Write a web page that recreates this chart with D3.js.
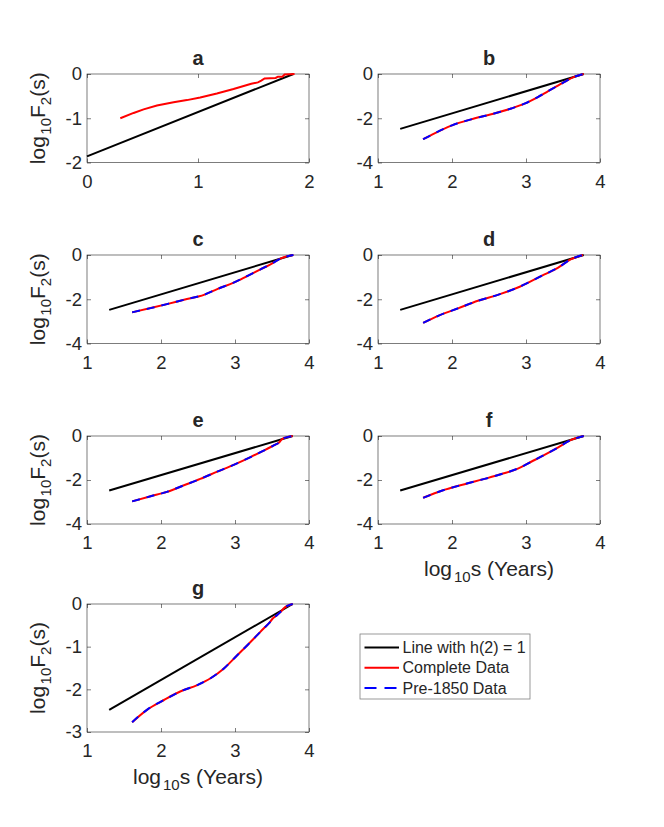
<!DOCTYPE html>
<html>
<head>
<meta charset="utf-8">
<script src="https://cdn.jsdelivr.net/npm/d3@7/dist/d3.min.js"></script>
<style>
  body { margin: 0; background: #fff; }
  text { font-family: "Liberation Sans", Arial, Helvetica, sans-serif; fill: #262626; }
</style>
</head>
<body>
<svg id="chart" width="664" height="827"></svg>
<script>
// values (log10 s, log10 F2(s))
const panelNames = ['a', 'b', 'c', 'd', 'e', 'f', 'g'];

const logSa = [0.30, 0.42, 0.51, 0.63, 0.78, 0.90, 1.02, 1.17, 1.32, 1.48, 1.54, 1.57, 1.60, 1.70, 1.72, 1.76, 1.78, 1.87];
const completeA = [-1.00, -0.88, -0.80, -0.71, -0.64, -0.59, -0.53, -0.44, -0.34, -0.22, -0.19, -0.15, -0.10, -0.09, -0.06, -0.06, -0.01, 0];

const logSb = [1.61, 1.73, 2.00, 2.26, 2.53, 2.80, 2.98, 3.16, 3.34, 3.52, 3.65, 3.78];
const completeB = [-2.95, -2.74, -2.32, -2.05, -1.82, -1.56, -1.34, -1.04, -0.70, -0.36, -0.13, 0];

const logSc = [1.61, 1.86, 2.08, 2.35, 2.58, 2.76, 2.99, 3.17, 3.35, 3.48, 3.62, 3.79];
const completeC = [-2.59, -2.40, -2.22, -1.99, -1.80, -1.54, -1.24, -0.94, -0.64, -0.42, -0.15, 0];

const logSd = [1.61, 1.82, 2.09, 2.35, 2.62, 2.89, 3.07, 3.25, 3.43, 3.61, 3.77];
const completeD = [-3.07, -2.74, -2.40, -2.07, -1.80, -1.47, -1.18, -0.88, -0.58, -0.19, 0];

const logSe = [1.61, 1.86, 2.08, 2.31, 2.53, 2.76, 2.99, 3.21, 3.39, 3.53, 3.60, 3.64, 3.78];
const completeE = [-2.97, -2.74, -2.54, -2.24, -1.95, -1.62, -1.30, -0.96, -0.66, -0.42, -0.28, -0.13, 0];

const logSf = [1.61, 1.86, 2.17, 2.44, 2.67, 2.89, 3.07, 3.25, 3.43, 3.61, 3.78];
const completeF = [-2.81, -2.49, -2.19, -1.95, -1.73, -1.48, -1.17, -0.86, -0.53, -0.18, 0];

const logSg = [1.61, 1.81, 2.04, 2.26, 2.49, 2.67, 2.85, 3.03, 3.17, 3.30, 3.39, 3.46, 3.51, 3.57, 3.62, 3.66, 3.78];
const completeG = [-2.77, -2.48, -2.25, -2.05, -1.90, -1.74, -1.51, -1.20, -0.96, -0.73, -0.57, -0.45, -0.34, -0.26, -0.18, -0.10, 0];

// pre-1850 curves lie on top of the complete ones
const preB = [...completeB];
const preC = [...completeC];
const preD = [...completeD];
const preE = [...completeE];
const preF = [...completeF];
const preG = [...completeG];

// h(2) = 1 reference line end points
const refXa = [0, 1.86];
const refYa = [-1.86, 0];
const refX = [1.30, 3.78];
const refY = [-2.48, 0];

const xTicksA = [0, 1, 2];
const xTicks = [1, 2, 3, 4];
const yTicksA = [-2, -1, 0];
const yTicks = [-4, -2, 0];
const yTicksG = [-3, -2, -1, 0];

const legendLabels = ['Line with h(2) = 1', 'Complete Data', 'Pre-1850 Data'];

// layout
const colLeft = [87, 378];
const plotW = 222;
const rowTop = [74, 255, 436, 604];
const rowH = [88.5, 88.5, 88, 128];

const panels = [
  { name: 'a', xs: logSa, full: completeA, pre: null, rx: refXa, ry: refYa, xd: [0, 2], yd: [-2, 0], xt: xTicksA, yt: yTicksA },
  { name: 'b', xs: logSb, full: completeB, pre: preB, rx: refX, ry: refY, xd: [1, 4], yd: [-4, 0], xt: xTicks, yt: yTicks },
  { name: 'c', xs: logSc, full: completeC, pre: preC, rx: refX, ry: refY, xd: [1, 4], yd: [-4, 0], xt: xTicks, yt: yTicks },
  { name: 'd', xs: logSd, full: completeD, pre: preD, rx: refX, ry: refY, xd: [1, 4], yd: [-4, 0], xt: xTicks, yt: yTicks },
  { name: 'e', xs: logSe, full: completeE, pre: preE, rx: refX, ry: refY, xd: [1, 4], yd: [-4, 0], xt: xTicks, yt: yTicks },
  { name: 'f', xs: logSf, full: completeF, pre: preF, rx: refX, ry: refY, xd: [1, 4], yd: [-4, 0], xt: xTicks, yt: yTicks },
  { name: 'g', xs: logSg, full: completeG, pre: preG, rx: refX, ry: refY, xd: [1, 4], yd: [-3, 0], xt: xTicks, yt: yTicksG }
];

const svg = d3.select('#chart');
const axisColor = '#262626';
const tickLen = 4;

function ylabel (g, h) {
  const t = g.append('text')
    .attr('transform', `translate(-42,${h / 2}) rotate(-90)`)
    .attr('text-anchor', 'middle')
    .style('font-size', '21px');
  t.append('tspan').text('log');
  t.append('tspan').attr('dx', 1.5).attr('dy', 6).style('font-size', '15px').text('10');
  t.append('tspan').attr('dy', -6).text('F');
  t.append('tspan').attr('dy', 6).style('font-size', '15px').text('2');
  t.append('tspan').attr('dy', -6).text('(s)');
}

function xlabel (g, h) {
  const t = g.append('text')
    .attr('x', plotW / 2)
    .attr('y', h + 52)
    .attr('text-anchor', 'middle')
    .style('font-size', '21px');
  t.append('tspan').text('log');
  t.append('tspan').attr('dx', 2).attr('dy', 6).style('font-size', '15px').text('10');
  t.append('tspan').attr('dy', -6).text('s (Years)');
}

panels.forEach((p, i) => {
  const col = i % 2;
  const row = Math.floor(i / 2);
  const h = rowH[row];
  const g = svg.append('g')
    .attr('transform', `translate(${colLeft[col]},${rowTop[row]})`);

  const x = d3.scaleLinear().domain(p.xd).range([0, plotW]);
  const y = d3.scaleLinear().domain(p.yd).range([h, 0]);

  // ticks on all four sides, pointing inward
  const styleAxis = sel => {
    sel.select('.domain').remove();
    sel.selectAll('.tick line').attr('stroke', axisColor).attr('stroke-width', 0.6);
    sel.selectAll('.tick text').style('font-size', '18.5px').attr('fill', axisColor);
  };
  g.append('g').attr('transform', `translate(0,${h})`)
    .call(d3.axisBottom(x).tickValues(p.xt).tickFormat(d3.format('d')).tickSize(-tickLen).tickPadding(12))
    .call(styleAxis);
  g.append('g')
    .call(d3.axisTop(x).tickValues(p.xt).tickFormat('').tickSize(-tickLen))
    .call(styleAxis);
  g.append('g')
    .call(d3.axisLeft(y).tickValues(p.yt).tickFormat(d3.format('d')).tickSize(-tickLen).tickPadding(5))
    .call(styleAxis);
  g.append('g').attr('transform', `translate(${plotW},0)`)
    .call(d3.axisRight(y).tickValues(p.yt).tickFormat('').tickSize(-tickLen))
    .call(styleAxis);

  g.selectAll('.tick text').text(function () { return this.textContent.replace('−', '-'); });

  g.append('rect')
    .attr('width', plotW).attr('height', h)
    .attr('fill', 'none').attr('stroke', axisColor).attr('stroke-width', 0.6);

  const line = d3.line().x(d => x(d[0])).y(d => y(d[1]));
  const smooth = d3.line().curve(d3.curveMonotoneX).x(d => x(d[0])).y(d => y(d[1]));

  g.append('path')
    .datum(d3.zip(p.rx, p.ry))
    .attr('d', line)
    .attr('fill', 'none').attr('stroke', '#000').attr('stroke-width', 2);

  g.append('path')
    .datum(d3.zip(p.xs, p.full))
    .attr('d', p.name === 'a' ? line : smooth)
    .attr('fill', 'none').attr('stroke', '#ff0000').attr('stroke-width', 2);

  if (p.pre) {
    g.append('path')
      .datum(d3.zip(p.xs, p.pre))
      .attr('d', smooth)
      .attr('fill', 'none').attr('stroke', '#0000ff').attr('stroke-width', 2)
      .attr('stroke-dasharray', '8,7');
  }

  g.append('text')
    .attr('x', plotW / 2).attr('y', -9)
    .attr('text-anchor', 'middle')
    .style('font-size', '20px').style('font-weight', 'bold')
    .attr('fill', '#000')
    .text(p.name);

  if (col === 0) ylabel(g, h);
  if (p.name === 'f' || p.name === 'g') xlabel(g, h);
});

// legend
const legend = svg.append('g').attr('transform', 'translate(360,634)');
legend.append('rect')
  .attr('width', 170).attr('height', 65)
  .attr('fill', '#fff').attr('stroke', '#808080').attr('stroke-width', 0.8);

const legendStyles = [
  { color: '#000', dash: null },
  { color: '#ff0000', dash: null },
  { color: '#0000ff', dash: '12,8' }
];
legendLabels.forEach((label, i) => {
  const yy = 13.5 + i * 20.2;
  legend.append('line')
    .attr('x1', 4.5).attr('x2', 39).attr('y1', yy).attr('y2', yy)
    .attr('stroke', legendStyles[i].color).attr('stroke-width', 2)
    .attr('stroke-dasharray', legendStyles[i].dash);
  legend.append('text')
    .attr('x', 42.5).attr('y', yy).attr('dy', '0.36em')
    .style('font-size', '16px')
    .attr('fill', '#000')
    .text(label);
});
</script>
</body>
</html>
